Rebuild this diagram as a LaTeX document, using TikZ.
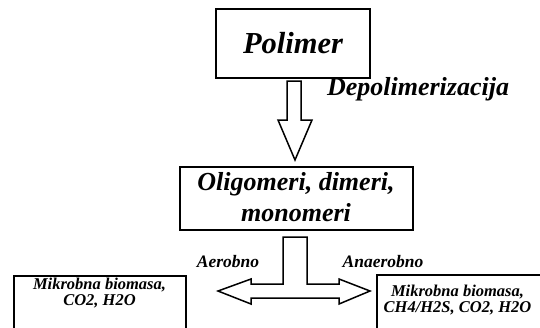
\documentclass[tikz,border=0pt]{standalone}
\usepackage{fontspec}
\setmainfont{Liberation Serif}
\begin{document}
\begin{tikzpicture}[x=1pt,y=-1pt,
  box/.style={draw,line width=2pt,inner sep=0pt},
  lbl/.style={font=\bfseries\itshape,inner sep=0pt,align=center},
  fat/.style={draw,line width=1.5pt,line join=miter,fill=white}]
\useasboundingbox (0,0) rectangle (540,327);
\clip (0,0) rectangle (540,327);
% boxes
\node[box,minimum width=154pt,minimum height=69pt] (pol) at (293,43.5)
  {\fontsize{30.5}{32}\bfseries\itshape Polimer};
\node[box,minimum width=233pt,minimum height=63pt] (olig) at (296.5,198.5) {};
\node[lbl,font=\fontsize{26}{31}\bfseries\itshape] (oligt) at (296,197) {Oligomeri, dimeri,\\monomeri};
\node[box,minimum width=172pt,minimum height=80pt,anchor=north west] (lb) at (13,275) {};
\node[lbl,font=\fontsize{16.5}{16.5}\bfseries\itshape] (lbt) at (99.5,293) {Mikrobna biomasa,\\CO2, H2O};
\node[box,minimum width=164pt,minimum height=80pt,anchor=north west] (rb) at (376,274) {};
\node[lbl,font=\fontsize{16.5}{16.5}\bfseries\itshape] (rbt) at (457.5,300) {Mikrobna biomasa,\\CH4/H2S, CO2, H2O};
% depolymerization arrow
\draw[fat] (287,81) -- (301,81) -- (301,120) -- (312,120) -- (295,160)
  -- (278,120) -- (287,120) -- cycle;
\node[lbl,font=\fontsize{26}{28}\bfseries\itshape] (dep) at (418,89) {Depolimerizacija};
% T arrow
\draw[fat] (283,237) -- (307,237) -- (307,284) -- (339,284) -- (339,279)
  -- (370,291) -- (339,304) -- (339,298) -- (251,298) -- (251,304)
  -- (218,291) -- (251,279) -- (251,284) -- (283,284) -- cycle;
\node[lbl,font=\fontsize{17.5}{18}\bfseries\itshape] (aer) at (228,262) {Aerobno};
\node[lbl,font=\fontsize{17.5}{18}\bfseries\itshape] (anaer) at (383,262) {Anaerobno};
\end{tikzpicture}
\end{document}
